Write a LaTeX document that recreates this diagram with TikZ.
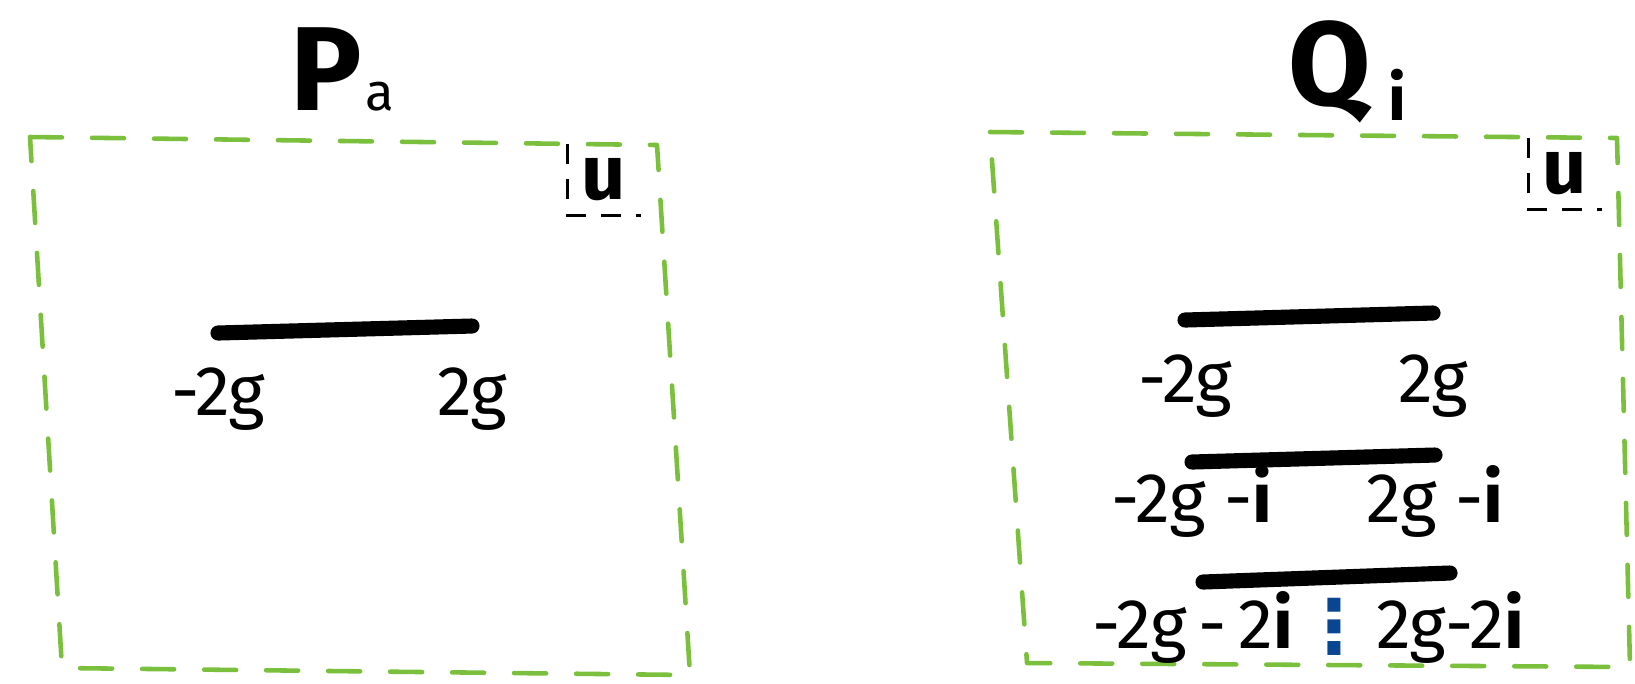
\documentclass[tikz,border=0pt]{standalone}
\usepackage{fontspec}
\setmainfont{Fira Sans}
\newfontfamily\dotsfont{DejaVu Sans}
\usetikzlibrary{positioning, calc}
\definecolor{frameGreen}{RGB}{122,192,60}
\definecolor{dotBlue}{RGB}{8,70,145}
\tikzset{
    frame/.style={draw=frameGreen, line width=1.3pt, line cap=round, line join=round, dash pattern=on 3.2mm off 3mm},
    ubox/.style={draw=black, line width=0.7pt, dash pattern=on 2mm off 1.5mm},
    uletter/.style={font=\fontsize{22}{22}\selectfont\bfseries, inner sep=0pt, minimum width=0.72cm, minimum height=0.70cm},
    bar/.style={line width=4.3pt, line cap=round},
    lbl/.style={font=\fontsize{20}{20}\selectfont, inner sep=0pt},
    ttl/.style={font=\fontsize{34}{34}\selectfont\bfseries, inner sep=0pt, anchor=base west},
    vdotsnode/.style={text=dotBlue, inner sep=0pt, font=\dotsfont\bfseries\fontsize{21}{21}\selectfont},
}

\begin{document}
\begin{tikzpicture}
    \useasboundingbox (0,0) rectangle (16.35,-6.83);

    % green frames
    \coordinate (pTL) at (0.30,-1.37);
    \coordinate (pTR) at (6.57,-1.45);
    \coordinate (pBR) at (6.90,-6.75);
    \coordinate (pBL) at (0.62,-6.68);
    \coordinate (qTL) at (9.90,-1.32);
    \coordinate (qTR) at (16.17,-1.38);
    \coordinate (qBR) at (16.30,-6.67);
    \coordinate (qBL) at (10.27,-6.63);
    \draw[frame] (pTL) -- (pTR) -- (pBR) -- (pBL) -- cycle;
    \draw[frame] (qTL) -- (qTR) -- (qBR) -- (qBL) -- cycle;

    % titles
    \node[ttl] (pTitle) at (2.90,-1.10) {P\kern1pt{\fontsize{15}{15}\selectfont\mdseries a}};
    \node[ttl] (qTitle) at (12.88,-1.05) {Q\kern5pt\raisebox{-0.15cm}{\fontsize{18}{18}\selectfont i}};

    % u corners
    \node[uletter] (pU) at (6.04,-1.80) {u};
    \node[uletter] (qU) at (15.65,-1.74) {u};
    \draw[ubox] (pU.north west) -- (pU.south west) -- (pU.south east);
    \draw[ubox] (qU.north west) -- (qU.south west) -- (qU.south east);

    % bars
    \coordinate (pw) at (2.18,-3.33);
    \coordinate (pe) at (4.72,-3.26);
    \coordinate (q1w) at (11.85,-3.20);
    \coordinate (q1e) at (14.33,-3.13);
    \coordinate (q2w) at (11.92,-4.62);
    \coordinate (q2e) at (14.35,-4.55);
    \coordinate (q3w) at (12.03,-5.82);
    \coordinate (q3e) at (14.50,-5.73);
    \draw[bar] (pw) -- (pe);
    \draw[bar] (q1w) -- (q1e);
    \draw[bar] (q2w) -- (q2e);
    \draw[bar] (q3w) -- (q3e);

    % end labels
    \node[lbl, below=8.2mm of pw, anchor=base] (pLo) {-2g};
    \node[lbl, below=8.9mm of pe, anchor=base] (pHi) {2g};
    \node[lbl, below=8.2mm of q1w, anchor=base] (q1Lo) {-2g};
    \node[lbl, below=8.9mm of q1e, anchor=base] (q1Hi) {2g};
    \node[lbl, below=6mm of q2w, anchor=base] (q2Lo) {-2g -\textbf{i}};
    \node[lbl, below=6.7mm of q2e, anchor=base] (q2Hi) {2g -\textbf{i}};
    \node[lbl, below=6.6mm of q3w, anchor=base, xshift=-1mm] (q3Lo) {-2g\,-\,2\textbf{i}};
    \node[lbl, below=7.5mm of q3e, anchor=base] (q3Hi) {2g-2\textbf{i}};
    \node[vdotsnode] (gap) at ($(q3w)!0.5!(q3e)+(0.08,-0.49)$) {\makebox[0.3cm]{⋮}};
\end{tikzpicture}
\end{document}
